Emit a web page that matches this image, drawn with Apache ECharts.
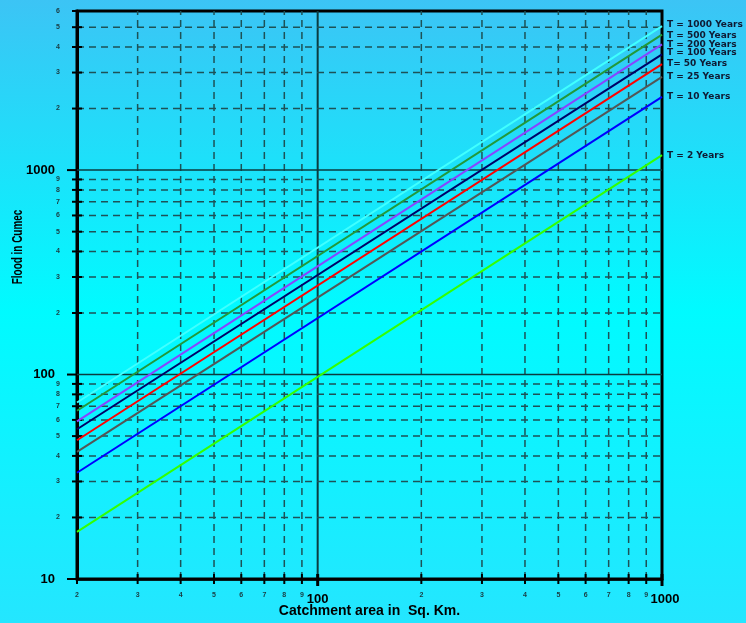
<!DOCTYPE html>
<html>
<head>
<meta charset="utf-8">
<script src="https://cdn.jsdelivr.net/npm/echarts@6/dist/echarts.min.js"></script>
<style>
html,body{margin:0;padding:0;}
#chart{width:746px;height:623px;}
</style>
</head>
<body>
<div id="chart"></div>
<script>
// ---- data ----
const xEnds = [20, 1000];                 // catchment area at the two ends of each line
const seriesNames = ['T = 1000 Years','T = 500 Years','T = 200 Years','T = 100 Years','T= 50 Years','T = 25 Years','T = 10 Years','T = 2 Years'];
const t1000 = [73, 5060];
const t500  = [66.5, 4600];
const t200  = [59, 4120];
const t100  = [54, 3680];
const t50   = [47.7, 3300];
const t25   = [41.9, 2860];
const t10   = [33.1, 2280];
const t2    = [17, 1184];
const seriesColors = ['#40ffff','#22993a','#8844ff','#000066','#ff0000','#555555','#0000ff','#33ff00'];
const labelOffsets = [[0,-1],[0,1.5],[0,0],[0,-2],[0,0],[0,0],[0,0],[0,1]];

const xTickValues = [20,30,40,50,60,70,80,90,100,200,300,400,500,600,700,800,900,1000];
const xTickLabels = ['2','3','4','5','6','7','8','9','100','2','3','4','5','6','7','8','9','1000'];
const yTickValues = [10,20,30,40,50,60,70,80,90,100,200,300,400,500,600,700,800,900,1000,2000,3000,4000,5000,6000];
const yTickLabels = ['10','2','3','4','5','6','7','8','9','100','2','3','4','5','6','7','8','9','1000','2','3','4','5','6'];

const xMin = 20, xMax = 1000, yMin = 10, yMax = 6000;
const isDecade = v => Math.abs(Math.log10(v) - Math.round(Math.log10(v))) < 1e-9;

const allSeriesValues = [t1000, t500, t200, t100, t50, t25, t10, t2];

const chart = echarts.init(document.getElementById('chart'));

const smallFont = 'bold 7px "Liberation Sans", Arial, sans-serif';
const bigFont = 'bold 13px "Liberation Sans", Arial, sans-serif';
const gridDash = '#1d5257';
const gridSolid = '#0b3c40';

function renderXTick(params, api) {
  const i = params.dataIndex;
  const v = api.value(0);
  const b = api.coord([v, yMin]);
  const t = api.coord([v, yMax]);
  const dec = isDecade(v);
  const ch = [];
  if (v !== xMin && v !== xMax) {
    ch.push({type:'line', shape:{x1:b[0], y1:b[1], x2:t[0], y2:t[1]},
      style:{stroke: dec ? gridSolid : gridDash, lineWidth: dec ? 2 : 1.5, lineDash: dec ? null : [7,5]}});
  }
  ch.push({type:'line', shape:{x1:b[0], y1:b[1]-5, x2:b[0], y2:b[1] + (dec ? 7 : 5)},
    style:{stroke:'#000', lineWidth: dec ? 3 : 2}});
  if (dec) {
    ch.push({type:'text', x:b[0] + (v === xMax ? 3 : 0), y:b[1]+20,
      style:{text:xTickLabels[i], font:bigFont, fill:'#000', align:'center', verticalAlign:'middle'}});
  } else {
    ch.push({type:'text', x:b[0], y:b[1]+16,
      style:{text:xTickLabels[i], font:smallFont, fill:'#1a3a40', align:'center', verticalAlign:'middle'}});
  }
  return {type:'group', children:ch};
}

function renderYTick(params, api) {
  const i = params.dataIndex;
  const v = api.value(1);
  const l = api.coord([xMin, v]);
  const r = api.coord([xMax, v]);
  const dec = isDecade(v);
  const ch = [];
  if (v !== yMin && v !== yMax) {
    ch.push({type:'line', shape:{x1:l[0], y1:l[1], x2:r[0], y2:r[1]},
      style:{stroke: dec ? gridSolid : gridDash, lineWidth: 1.5, lineDash: dec ? null : [7,5]}});
  }
  if (dec) {
    ch.push({type:'line', shape:{x1:l[0]-10, y1:l[1], x2:l[0], y2:l[1]}, style:{stroke:'#000', lineWidth:2}});
    ch.push({type:'text', x:l[0]-22, y:l[1], style:{text:yTickLabels[i], font:bigFont, fill:'#000', align:'right', verticalAlign:'middle'}});
  } else {
    ch.push({type:'line', shape:{x1:l[0]-5, y1:l[1], x2:l[0]+5, y2:l[1]}, style:{stroke:'#000', lineWidth:2}});
    ch.push({type:'text', x:l[0]-19, y:l[1], style:{text:yTickLabels[i], font:smallFont, fill:'#1a3a40', align:'center', verticalAlign:'middle'}});
  }
  return {type:'group', children:ch};
}

const lineSeries = allSeriesValues.map((vals, k) => ({
  type:'line',
  name: seriesNames[k],
  data: xEnds.map((x, j) => [x, vals[j]]),
  showSymbol:false,
  symbol:'none',
  lineStyle:{color: seriesColors[k], width:2},
  itemStyle:{color: seriesColors[k]},
  z: 5,
  endLabel:{show:true, formatter: seriesNames[k], distance:5, offset: labelOffsets[k],
    color:'#0f1a33', fontWeight:'bold', fontSize:9, fontFamily:'"DejaVu Sans", "Liberation Sans", Arial, sans-serif'}
}));

chart.setOption({
  animation:false,
  backgroundColor: new echarts.graphic.LinearGradient(0,0,0,1,[
    {offset:0, color:'#3cc4f5'},
    {offset:0.5, color:'#00fbff'},
    {offset:1, color:'#24e6ff'}
  ]),
  grid:{left:77, right:84, top:11, bottom:44, outerBoundsMode:'none', containLabel:false,
    show:true, borderColor:'#000', borderWidth:3, backgroundColor:'transparent'},
  xAxis:{type:'log', logBase:10, min:xMin, max:xMax,
    axisLine:{show:true, lineStyle:{color:'#000', width:2.5}},
    axisTick:{show:false}, axisLabel:{show:false}, splitLine:{show:false}, minorTick:{show:false}, minorSplitLine:{show:false},
    name:'Catchment area in  Sq. Km.', nameLocation:'middle', nameGap:25,
    nameTextStyle:{fontWeight:'bold', fontSize:14, color:'#000', fontFamily:'"Liberation Sans", Arial, sans-serif'}},
  yAxis:{type:'log', logBase:10, min:yMin, max:yMax,
    axisLine:{show:true, lineStyle:{color:'#000', width:3}},
    axisTick:{show:false}, axisLabel:{show:false}, splitLine:{show:false}, minorTick:{show:false}, minorSplitLine:{show:false}},
  graphic:[{type:'text', x:18, y:247, rotation:Math.PI/2, scaleX:0.71,
    style:{text:'Flood in Cumec', font:'bold 14px "Liberation Sans", Arial, sans-serif', fill:'#000', align:'center', verticalAlign:'middle'}}],
  series:[
    {type:'custom', renderItem:renderXTick, data:xTickValues.map(v => [v, yMin]), clip:false, silent:true, z:2},
    {type:'custom', renderItem:renderYTick, data:yTickValues.map(v => [xMin, v]), clip:false, silent:true, z:2},
    ...lineSeries
  ]
});
</script>
</body>
</html>
